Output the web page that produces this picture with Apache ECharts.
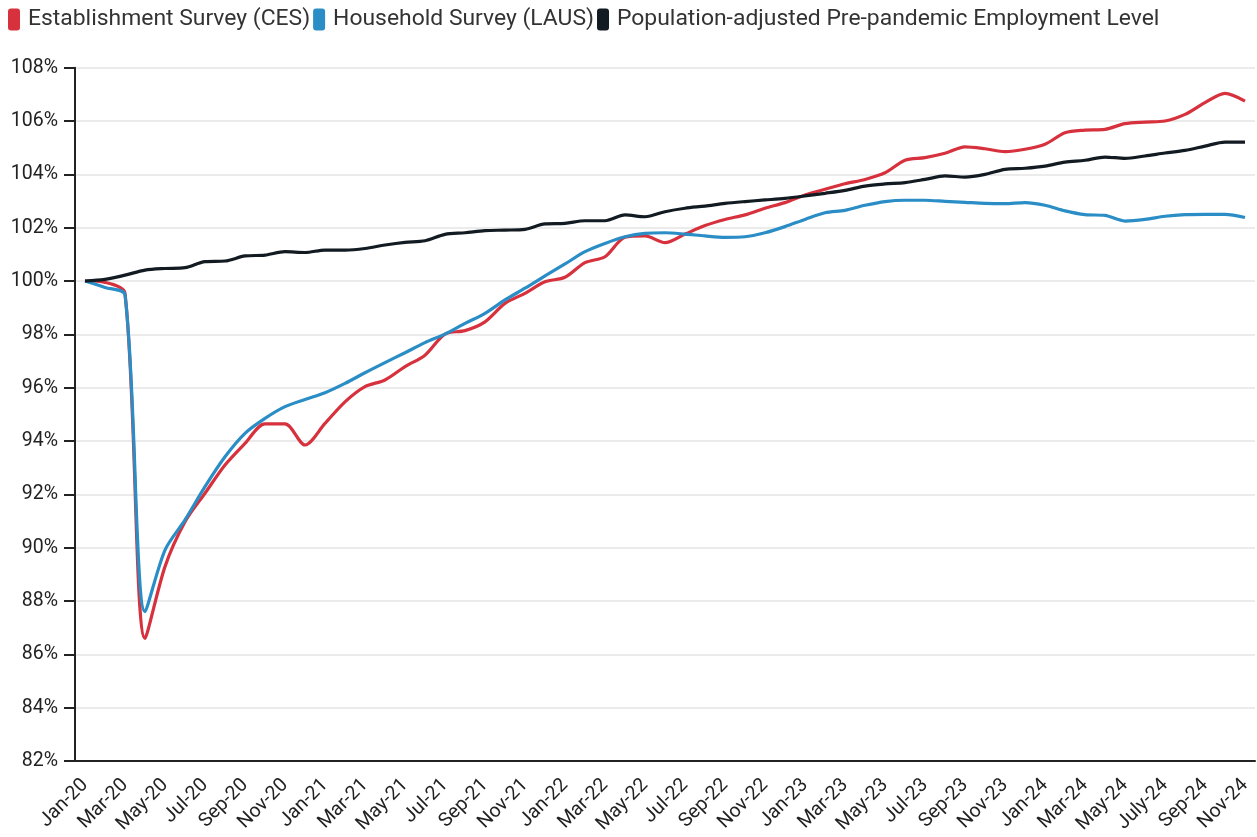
<!DOCTYPE html>
<html><head><meta charset="utf-8">
<script src="https://cdn.jsdelivr.net/npm/echarts@6/dist/echarts.min.js"></script>
<style>html,body{margin:0;padding:0;background:#fff}#c{width:1257px;height:837px}</style>
</head><body><div id="c"></div>
<script>
var months = ["Jan-20","Feb-20","Mar-20","Apr-20","May-20","Jun-20","Jul-20","Aug-20","Sep-20","Oct-20","Nov-20","Dec-20",
"Jan-21","Feb-21","Mar-21","Apr-21","May-21","Jun-21","Jul-21","Aug-21","Sep-21","Oct-21","Nov-21","Dec-21",
"Jan-22","Feb-22","Mar-22","Apr-22","May-22","Jun-22","Jul-22","Aug-22","Sep-22","Oct-22","Nov-22","Dec-22",
"Jan-23","Feb-23","Mar-23","Apr-23","May-23","Jun-23","Jul-23","Aug-23","Sep-23","Oct-23","Nov-23","Dec-23",
"Jan-24","Feb-24","Mar-24","Apr-24","May-24","Jun-24","July-24","Aug-24","Sep-24","Oct-24","Nov-24"];
var ces = [100,99.95,99.54,86.6,89.29,90.97,92.04,93.1,93.91,94.64,94.64,93.85,
94.66,95.47,96.04,96.29,96.79,97.22,98.01,98.14,98.47,99.16,99.54,99.97,
100.14,100.69,100.91,101.64,101.69,101.44,101.76,102.08,102.31,102.48,102.73,102.94,
103.23,103.44,103.65,103.81,104.06,104.53,104.63,104.79,105.03,104.96,104.85,104.94,
105.13,105.56,105.66,105.69,105.9,105.96,106.0,106.25,106.69,107.04,106.75];
var laus = [100,99.76,99.48,87.6,89.91,91.04,92.29,93.41,94.29,94.85,95.29,95.56,
95.81,96.16,96.56,96.94,97.31,97.69,98.01,98.41,98.79,99.29,99.73,100.19,
100.64,101.1,101.41,101.66,101.79,101.81,101.76,101.69,101.64,101.66,101.81,102.04,
102.31,102.56,102.65,102.84,102.98,103.03,103.03,102.99,102.95,102.91,102.9,102.94,
102.84,102.63,102.49,102.46,102.25,102.31,102.43,102.49,102.5,102.5,102.38];
var prePandemic = [100,100.06,100.22,100.41,100.47,100.5,100.73,100.75,100.94,100.97,101.1,101.07,
101.16,101.16,101.22,101.35,101.45,101.51,101.75,101.81,101.89,101.91,101.94,102.14,
102.16,102.26,102.26,102.48,102.41,102.6,102.73,102.81,102.91,102.98,103.04,103.1,
103.19,103.29,103.4,103.56,103.64,103.69,103.81,103.94,103.9,104.0,104.19,104.23,
104.31,104.46,104.53,104.65,104.6,104.69,104.8,104.9,105.06,105.21,105.21];
var seriesNames = ["Establishment Survey (CES)","Household Survey (LAUS)","Population-adjusted Pre-pandemic Employment Level"];
var colors = ["#d6313d","#2a8dc6","#121a22"];
var yMin = 82, yMax = 108, yStep = 2;

var chart = echarts.init(document.getElementById('c'), null, {renderer:'canvas'});
var font = 'Roboto, "Noto Sans", sans-serif';
function mk(name, data, color){
  return {name:name, type:'line', data:data, smooth:0.3, symbol:'none',
    lineStyle:{color:color, width:3.2}, itemStyle:{color:color}};
}
chart.setOption({
  animation:false,
  color: colors,
  textStyle:{fontFamily:font},
  legend:{
    left:8, top:8, itemGap:3, itemWidth:12, itemHeight:22, padding:0,
    icon:'path://M3,0 L9,0 Q12,0 12,3 L12,19 Q12,22 9,22 L3,22 Q0,22 0,19 L0,3 Q0,0 3,0 Z',
    textStyle:{fontSize:22.9, color:'#333', fontFamily:font, padding:[0,0,0,3]},
    data: seriesNames
  },
  grid:{left:75, right:2, top:67.7, bottom:76, containLabel:false},
  xAxis:{
    type:'category', data:months, boundaryGap:true,
    axisLine:{lineStyle:{color:'#222', width:2}},
    axisTick:{alignWithLabel:true, interval:0, length:11, lineStyle:{color:'#222', width:2}},
    axisLabel:{interval:1, rotate:45, fontSize:19.5, color:'#222', fontFamily:font, margin:21},
    splitLine:{show:false}
  },
  yAxis:{
    type:'value', min:yMin, max:yMax, interval:yStep,
    axisLine:{show:true, lineStyle:{color:'#222', width:2}},
    axisTick:{show:true, length:11, lineStyle:{color:'#222', width:2}},
    axisLabel:{formatter:'{value}%', fontSize:19.5, color:'#222', fontFamily:font, margin:17},
    splitLine:{lineStyle:{color:'#ebebeb', width:2}}
  },
  series:[mk(seriesNames[0], ces, colors[0]), mk(seriesNames[1], laus, colors[1]), mk(seriesNames[2], prePandemic, colors[2])]
});
</script></body></html>
